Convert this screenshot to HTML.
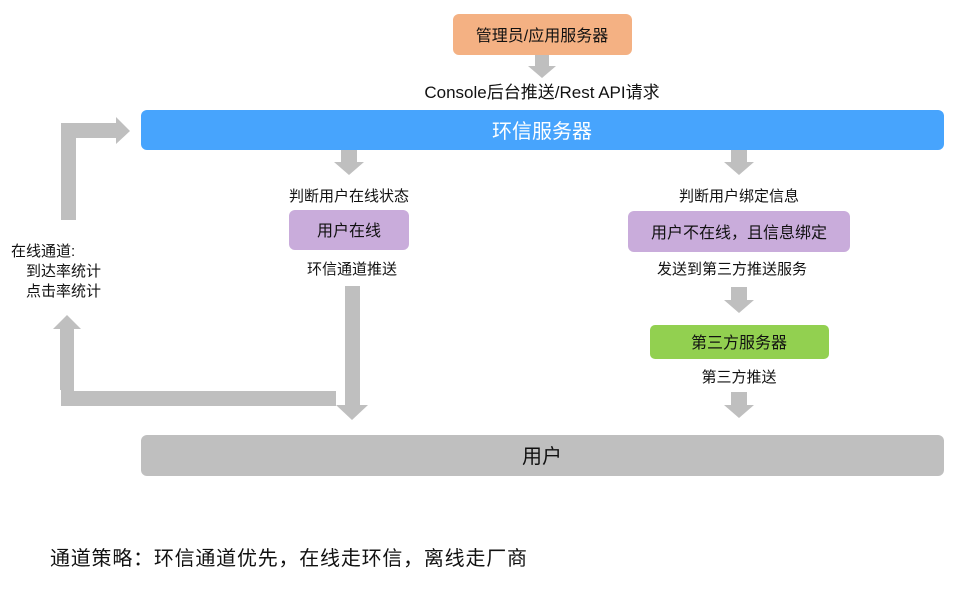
<!DOCTYPE html>
<html><head><meta charset="utf-8"><style>
body{margin:0;background:#fff;}
svg text{font-family:"Liberation Sans","Noto Sans CJK SC",sans-serif;fill:#111;}
</style></head><body>
<svg width="967" height="584" viewBox="0 0 967 584" xmlns="http://www.w3.org/2000/svg">
<g fill="#bfbfbf">
<polygon points="535,55 549,55 549,66 556,66 542,78 528,66 535,66"/>
<polygon points="341,150 357,150 357,162 364,162 349,175 334,162 341,162"/>
<polygon points="731,150 747,150 747,162 754,162 739,175 724,162 731,162"/>
<polygon points="731,287 747,287 747,300 754,300 739,313 724,300 731,300"/>
<polygon points="731,392 747,392 747,405 754,405 739,418 724,405 731,405"/>
<polygon points="61,220 76,220 76,138 116,138 116,144 130,131 116,117 116,123 61,123"/>
<polygon points="60,390 60,329 53,329 67,315 81,329 74,329 74,391 336,391 336,406 61,406 61,390"/>
<polygon points="345,286 360,286 360,405 368,405 352,420 336,405 345,405"/>
</g>
<rect x="453" y="14" width="179" height="41" rx="6" fill="#f4b183"/>
<text x="542" y="41" font-size="16" text-anchor="middle">管理员/应用服务器</text>
<text x="542" y="98" font-size="17" text-anchor="middle">Console后台推送/Rest API请求</text>
<rect x="141" y="110" width="803" height="40" rx="6" fill="#47a4fd"/>
<text x="542" y="138" font-size="20" text-anchor="middle" style="fill:#fff">环信服务器</text>
<text x="349" y="201" font-size="15" text-anchor="middle">判断用户在线状态</text>
<rect x="289" y="210" width="120" height="40" rx="6" fill="#c9acdb"/>
<text x="349" y="236" font-size="16" text-anchor="middle">用户在线</text>
<text x="352" y="274" font-size="15" text-anchor="middle">环信通道推送</text>
<text x="739" y="201" font-size="15" text-anchor="middle">判断用户绑定信息</text>
<rect x="628" y="211" width="222" height="41" rx="6" fill="#c9acdb"/>
<text x="739" y="238" font-size="16" text-anchor="middle">用户不在线，且信息绑定</text>
<text x="732" y="274" font-size="15" text-anchor="middle">发送到第三方推送服务</text>
<rect x="650" y="325" width="179" height="34" rx="5" fill="#92d050"/>
<text x="739" y="348" font-size="16" text-anchor="middle">第三方服务器</text>
<text x="739" y="382" font-size="15" text-anchor="middle">第三方推送</text>
<text x="11" y="256" font-size="15">在线通道:</text>
<text x="26" y="276" font-size="15">到达率统计</text>
<text x="26" y="296" font-size="15">点击率统计</text>
<rect x="141" y="435" width="803" height="41" rx="6" fill="#bfbfbf"/>
<text x="542" y="463" font-size="20" text-anchor="middle">用户</text>
<text x="50" y="565" font-size="20" textLength="477" lengthAdjust="spacing">通道策略：环信通道优先，在线走环信，离线走厂商</text>
</svg>
</body></html>
